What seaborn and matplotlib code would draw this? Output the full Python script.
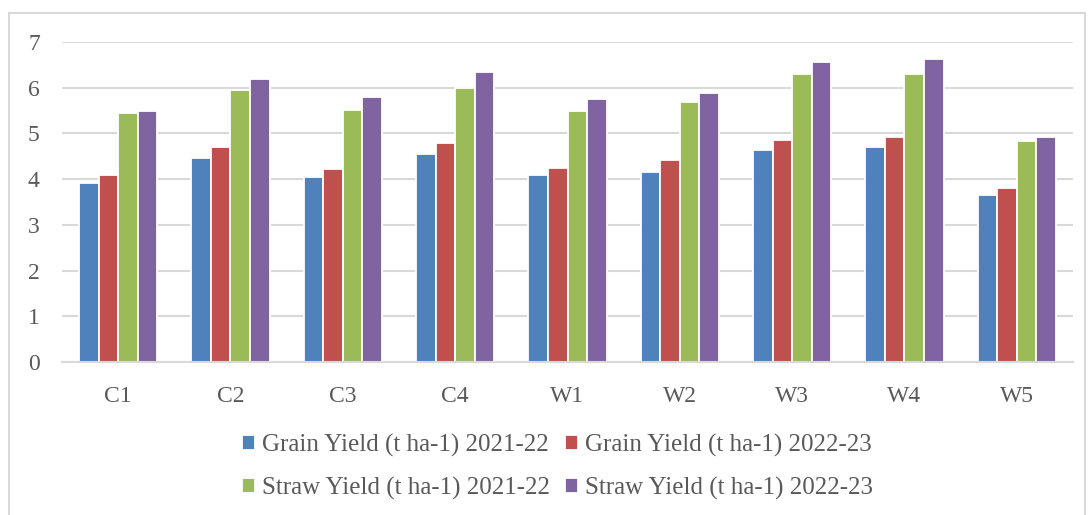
import pandas as pd
import seaborn as sns
import matplotlib.pyplot as plt
from matplotlib.patches import Rectangle

categories = ["C1", "C2", "C3", "C4", "W1", "W2", "W3", "W4", "W5"]
grain_2021 = [3.91, 4.47, 4.05, 4.55, 4.08, 4.15, 4.64, 4.71, 3.66]
grain_2022 = [4.09, 4.71, 4.22, 4.79, 4.25, 4.42, 4.86, 4.93, 3.80]
straw_2021 = [5.45, 5.94, 5.52, 5.99, 5.50, 5.68, 6.29, 6.31, 4.83]
straw_2022 = [5.50, 6.18, 5.80, 6.34, 5.76, 5.89, 6.57, 6.62, 4.93]
series_names = [
    "Grain Yield (t ha-1) 2021-22",
    "Grain Yield (t ha-1) 2022-23",
    "Straw Yield (t ha-1) 2021-22",
    "Straw Yield (t ha-1) 2022-23",
]
colors = ["#4F81BD", "#C0504D", "#9BBB59", "#8064A2"]


def build_frame():
    rows = []
    for name, vals in zip(series_names, [grain_2021, grain_2022, straw_2021, straw_2022]):
        for cat, v in zip(categories, vals):
            rows.append({"Treatment": cat, "Series": name, "Yield": v})
    return pd.DataFrame(rows)


def main():
    sns.set_theme(style="white")
    plt.rcParams["font.family"] = ["Liberation Serif", "DejaVu Serif"]
    text_color = "#595959"

    df = build_frame()
    fig = plt.figure(figsize=(10.88, 5.15), dpi=100)
    ax = fig.add_axes([62 / 1088, 1 - 362 / 515, 1011 / 1088, 320 / 515])

    sns.barplot(
        data=df, x="Treatment", y="Yield", hue="Series",
        hue_order=series_names, palette=colors, width=0.7,
        edgecolor="white", linewidth=1.3, saturation=1, ax=ax,
    )

    ax.set_ylim(0, 7)
    ax.set_yticks(range(0, 8))
    ax.yaxis.grid(True, color="#D9D9D9", linewidth=1.5)
    ax.set_axisbelow(True)
    for side in ["top", "right", "left"]:
        ax.spines[side].set_visible(False)
    ax.spines["bottom"].set_color("#D9D9D9")
    ax.spines["bottom"].set_linewidth(1.5)
    ax.tick_params(axis="both", length=0, labelsize=17, colors=text_color)
    ax.tick_params(axis="y", pad=16)
    ax.tick_params(axis="x", pad=17)
    ax.set_xlabel("")
    ax.set_ylabel("")

    # row-major order for the two-column legend
    handles, labels = ax.get_legend_handles_labels()
    order = [0, 2, 1, 3]
    ax.get_legend().remove()
    fig.legend(
        [handles[i] for i in order], [labels[i] for i in order],
        ncol=2, loc="center", bbox_to_anchor=(0.512, 1 - 467 / 515),
        frameon=False, fontsize=18, labelcolor=text_color,
        handlelength=0.55, handleheight=0.55, handletextpad=0.25,
        columnspacing=0.6, labelspacing=0.8, borderpad=0,
    )

    # outer chart border
    fig.patches.append(Rectangle(
        (9 / 1088, -0.05), 1076 / 1088, 1.05 - 13 / 515,
        transform=fig.transFigure, fill=False, edgecolor="#D9D9D9", linewidth=1.5,
    ))

    fig.savefig("out.png", dpi=100)


if __name__ == "__main__":
    main()
